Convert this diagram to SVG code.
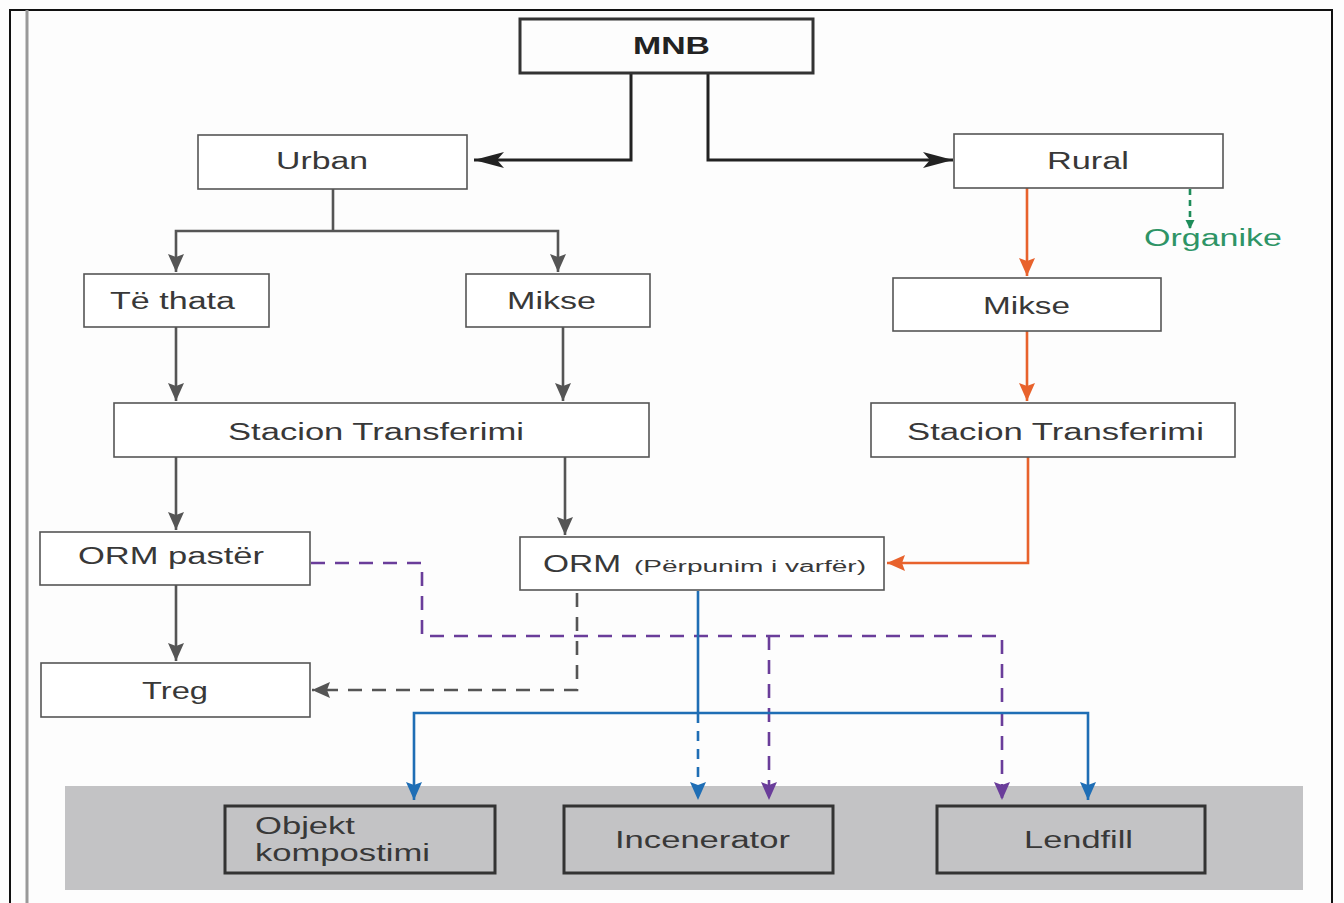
<svg xmlns="http://www.w3.org/2000/svg" width="1344" height="903" viewBox="0 0 1344 903">
<style>
.bx{fill:#fff;stroke:#555;stroke-width:1.6}
.bk{fill:none;stroke:#333;stroke-width:3}
.t{font-family:"Liberation Sans",Arial,sans-serif;font-size:23px;fill:#383838}
.tb{font-weight:bold;fill:#222}
.sm{font-size:16px}
.g{fill:none;stroke:#555;stroke-width:2.6}
.k{fill:none;stroke:#222;stroke-width:3}
.o{fill:none;stroke:#e8622c;stroke-width:2.6}
.b{fill:none;stroke:#1f6eb5;stroke-width:2.6}
.p{fill:none;stroke:#6a3d9a;stroke-width:2.6;stroke-dasharray:14 10}
.gd{fill:none;stroke:#555;stroke-width:2.6;stroke-dasharray:14 10}
.bd{fill:none;stroke:#1f6eb5;stroke-width:2.6;stroke-dasharray:10 8}
.gr{fill:none;stroke:#1e8c5a;stroke-width:2.6;stroke-dasharray:6 5}
</style>
<defs>
<marker id="aK" markerUnits="userSpaceOnUse" markerWidth="32" markerHeight="18" refX="30" refY="8" orient="auto"><path d="M0,0 L30,8 L0,16 L7,8 z" fill="#222"/></marker>
<marker id="aG" markerUnits="userSpaceOnUse" markerWidth="20" markerHeight="18" refX="18" refY="8" orient="auto"><path d="M0,0 L18,8 L0,16 L3,8 z" fill="#555"/></marker>
<marker id="aO" markerUnits="userSpaceOnUse" markerWidth="20" markerHeight="18" refX="18" refY="8" orient="auto"><path d="M0,0 L18,8 L0,16 L3,8 z" fill="#e8622c"/></marker>
<marker id="aB" markerUnits="userSpaceOnUse" markerWidth="20" markerHeight="18" refX="18" refY="8" orient="auto"><path d="M0,0 L18,8 L0,16 L3,8 z" fill="#1f6eb5"/></marker>
<marker id="aP" markerUnits="userSpaceOnUse" markerWidth="20" markerHeight="18" refX="18" refY="8" orient="auto"><path d="M0,0 L18,8 L0,16 L3,8 z" fill="#6a3d9a"/></marker>
<marker id="aGr" markerUnits="userSpaceOnUse" markerWidth="10" markerHeight="10" refX="9" refY="4.5" orient="auto"><path d="M0,0 L9,4.5 L0,9 z" fill="#1e8c5a"/></marker>
</defs>
<rect x="0" y="0" width="1344" height="903" fill="#fdfdfd"/>
<g id="frame">
<path d="M10,903 V10 H1332 V903" fill="none" stroke="#111" stroke-width="2"/>
<line x1="27" y1="10" x2="27" y2="903" stroke="#999" stroke-width="3"/>
<rect x="65" y="786" width="1238" height="104" fill="#c3c3c5"/>
</g>
<g id="connectors">
<path class="k" d="M631,73 V160 H474" marker-end="url(#aK)"/>
<path class="k" d="M708,73 V160 H953" marker-end="url(#aK)"/>
<path class="g" d="M333,189 V231"/>
<path class="g" d="M333,231 H176 V272" marker-end="url(#aG)"/>
<path class="g" d="M333,231 H558 V272" marker-end="url(#aG)"/>
<path class="g" d="M176,327 V401" marker-end="url(#aG)"/>
<path class="g" d="M563,327 V401" marker-end="url(#aG)"/>
<path class="g" d="M176,457 V530" marker-end="url(#aG)"/>
<path class="g" d="M565,457 V535" marker-end="url(#aG)"/>
<path class="g" d="M176,585 V661" marker-end="url(#aG)"/>
<path class="gd" d="M577,593 V690 H312" marker-end="url(#aG)"/>
<path class="o" d="M1027,188 V276" marker-end="url(#aO)"/>
<path class="o" d="M1027,331 V401" marker-end="url(#aO)"/>
<path class="o" d="M1028,457 V563 H887" marker-end="url(#aO)"/>
<path class="gr" d="M1190,189 V229" marker-end="url(#aGr)"/>
<path class="p" d="M311,563 H422 V636 H1002 V800" marker-end="url(#aP)"/>
<path class="p" d="M769,636 V800" marker-end="url(#aP)"/>
<path class="b" d="M698,591 V713"/>
<path class="b" d="M698,713 H414 V800" marker-end="url(#aB)"/>
<path class="b" d="M698,713 H1088 V800" marker-end="url(#aB)"/>
<path class="bd" d="M698,713 V800" marker-end="url(#aB)"/>
</g>
<g id="mnb"><rect class="bk" x="520" y="19" width="293" height="54" fill="#fff"/><text class="t tb" x="633" y="54" textLength="77" lengthAdjust="spacingAndGlyphs">MNB</text></g>
<g id="urban"><rect class="bx" x="198" y="135" width="269" height="54"/><text class="t" x="276" y="169" textLength="92" lengthAdjust="spacingAndGlyphs">Urban</text></g>
<g id="rural"><rect class="bx" x="954" y="134" width="269" height="54"/><text class="t" x="1047" y="169" textLength="82" lengthAdjust="spacingAndGlyphs">Rural</text></g>
<g id="organike"><text class="t" x="1144" y="246" textLength="138" lengthAdjust="spacingAndGlyphs" style="fill:#2e9466">Organike</text></g>
<g id="te-thata"><rect class="bx" x="84" y="274" width="185" height="53"/><text class="t" x="110" y="309" textLength="125" lengthAdjust="spacingAndGlyphs">Të thata</text></g>
<g id="mikse-urban"><rect class="bx" x="466" y="274" width="184" height="53"/><text class="t" x="507" y="309" textLength="89" lengthAdjust="spacingAndGlyphs">Mikse</text></g>
<g id="mikse-rural"><rect class="bx" x="893" y="278" width="268" height="53"/><text class="t" x="983" y="314" textLength="87" lengthAdjust="spacingAndGlyphs">Mikse</text></g>
<g id="stacion-urban"><rect class="bx" x="114" y="403" width="535" height="54"/><text class="t" x="228" y="440" textLength="296" lengthAdjust="spacingAndGlyphs">Stacion Transferimi</text></g>
<g id="stacion-rural"><rect class="bx" x="871" y="403" width="364" height="54"/><text class="t" x="907" y="440" textLength="297" lengthAdjust="spacingAndGlyphs">Stacion Transferimi</text></g>
<g id="orm-paster"><rect class="bx" x="40" y="532" width="270" height="53"/><text class="t" x="78" y="564" textLength="186" lengthAdjust="spacingAndGlyphs">ORM pastër</text></g>
<g id="orm"><rect class="bx" x="520" y="537" width="364" height="53"/><text class="t" x="543" y="572" textLength="78" lengthAdjust="spacingAndGlyphs">ORM</text><text class="t sm" x="634" y="572" textLength="232" lengthAdjust="spacingAndGlyphs">(Përpunim i varfër)</text></g>
<g id="treg"><rect class="bx" x="41" y="663" width="269" height="54"/><text class="t" x="142" y="699" textLength="66" lengthAdjust="spacingAndGlyphs">Treg</text></g>
<g id="kompostimi"><rect class="bk" x="225" y="806" width="270" height="67"/><text class="t" x="255" y="834" textLength="100" lengthAdjust="spacingAndGlyphs">Objekt</text><text class="t" x="255" y="861" textLength="175" lengthAdjust="spacingAndGlyphs">kompostimi</text></g>
<g id="incenerator"><rect class="bk" x="564" y="806" width="269" height="67"/><text class="t" x="615" y="848" textLength="175" lengthAdjust="spacingAndGlyphs">Incenerator</text></g>
<g id="lendfill"><rect class="bk" x="937" y="806" width="268" height="67"/><text class="t" x="1024" y="848" textLength="109" lengthAdjust="spacingAndGlyphs">Lendfill</text></g>
</svg>
